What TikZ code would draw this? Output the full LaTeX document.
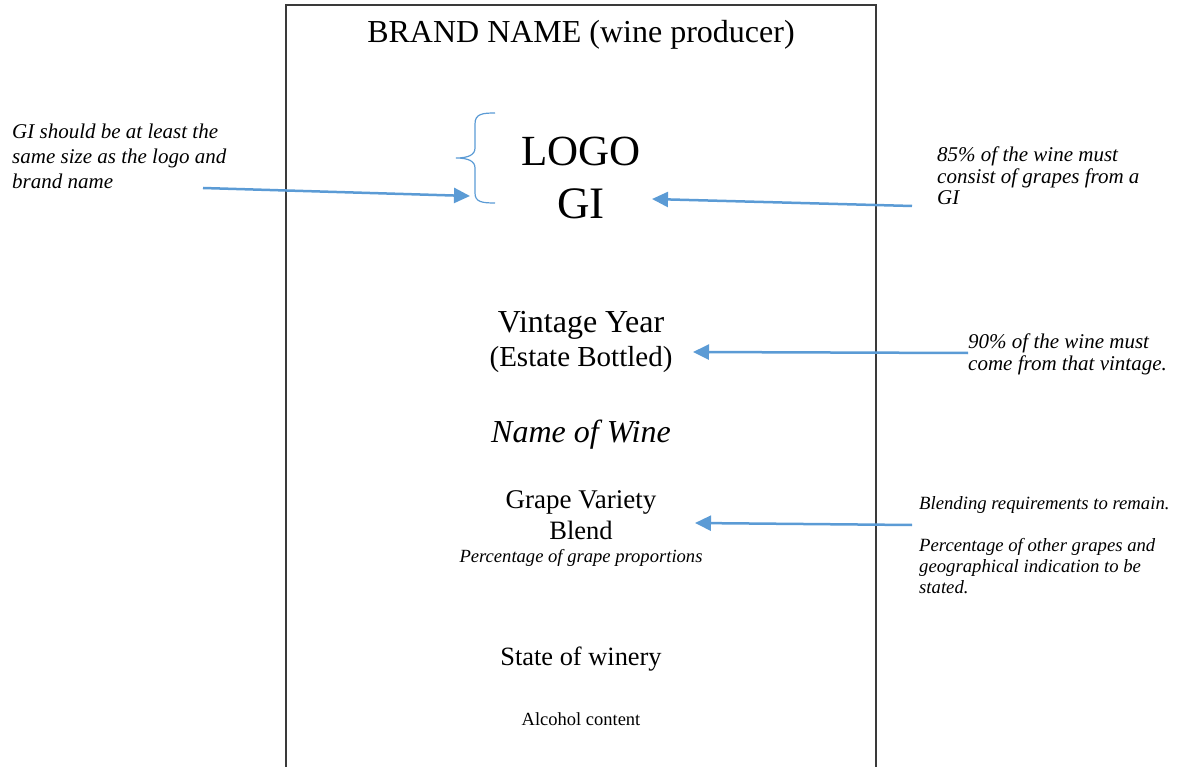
\documentclass[tikz,border=0pt]{standalone}
\usepackage{fontspec}
\setmainfont{Liberation Serif}
\usetikzlibrary{arrows.meta}
\definecolor{callout}{HTML}{5B9BD5}
\definecolor{frame}{HTML}{3A3A3A}
\begin{document}
\begin{tikzpicture}[x=1pt,y=-1pt,
  lbl/.style={inner sep=0pt, anchor=base},
  note/.style={inner sep=0pt, anchor=north west, align=left,
    font=\fontsize{21}{24}\selectfont\itshape},
  pointer/.style={draw=callout, line width=2.5pt,
    -{Triangle[length=16pt,width=15pt,fill=callout]}},
]
\useasboundingbox (0,0) rectangle (1178,767);

% label outline (open at the bottom)
\draw[frame, line width=1.5pt] (286,767) -- (286,5) -- (876,5) -- (876,767);

% label contents
\node[lbl, font=\fontsize{32}{38}\selectfont] (brand) at (581,43) {BRAND NAME (wine producer)};
\node[lbl, font=\fontsize{43}{50}\selectfont] (logo) at (581,166) {LOGO};
\node[lbl, font=\fontsize{45}{52}\selectfont] (gi) at (581,219) {GI};
\node[lbl, font=\fontsize{32}{36}\selectfont] (vintage) at (581,333) {Vintage Year};
\node[lbl, font=\fontsize{29}{34}\selectfont] (estate) at (581,366) {(Estate Bottled)};
\node[lbl, font=\fontsize{32}{38}\selectfont\itshape] (wine) at (581,442) {Name of Wine};
\node[lbl, font=\fontsize{27}{32}\selectfont] (variety) at (581,508) {Grape Variety};
\node[lbl, font=\fontsize{26.5}{32}\selectfont] (blend) at (581,539) {Blend};
\node[lbl, font=\fontsize{18.6}{22}\selectfont\itshape] (percent) at (581,562) {Percentage of grape proportions};
\node[lbl, font=\fontsize{26.4}{32}\selectfont] (state) at (581,665) {State of winery};
\node[lbl, font=\fontsize{18.5}{22}\selectfont] (alcohol) at (581,725) {Alcohol content};

% curly brace grouping logo and GI
\draw[callout, line width=1.2pt]
  (495,113) .. controls (482,113) and (475,114) .. (475,124) -- (475,148)
  .. controls (475,155) and (468,158) .. (456,158)
  .. controls (468,158) and (475,161) .. (475,168) -- (475,193)
  .. controls (475,202) and (482,203) .. (495,203);

% side notes
\node[note, font=\fontsize{21}{25}\selectfont\itshape] (sizenote) at (12,124)
  {GI should be at least the\\same size as the logo and\\brand name};
\node[note, font=\fontsize{21}{21.5}\selectfont\itshape] (ginote) at (937,147)
  {85\% of the wine must\\consist of grapes from a\\GI};
\node[note, font=\fontsize{21}{22}\selectfont\itshape] (vintnote) at (968,334)
  {90\% of the wine must\\come from that vintage.};
\node[note, font=\fontsize{18.7}{21}\selectfont\itshape] (blendnote) at (919,496)
  {Blending requirements to remain.\\[21pt]Percentage of other grapes and\\geographical indication to be\\stated.};

% arrow ends
\coordinate (sizeFrom) at (203,188);
\coordinate (sizeTo) at (470,196);
\coordinate (giFrom) at (912,206);
\coordinate (giTo) at (652,199);
\coordinate (vintFrom) at (968,353);
\coordinate (vintTo) at (693,352);
\coordinate (blendFrom) at (912,525);
\coordinate (blendTo) at (695,523);

\draw[pointer] (sizeFrom) -- (sizeTo);
\draw[pointer] (giFrom) -- (giTo);
\draw[pointer] (vintFrom) -- (vintTo);
\draw[pointer] (blendFrom) -- (blendTo);
\end{tikzpicture}
\end{document}
